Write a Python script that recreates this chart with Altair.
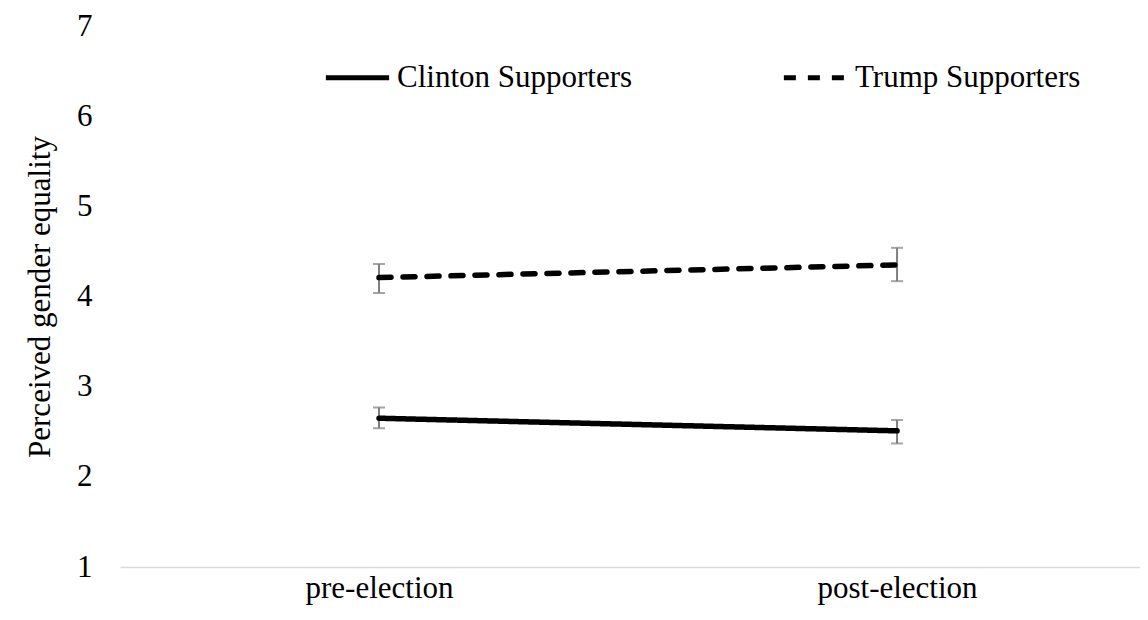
import altair as alt
import pandas as pd

conditions = ["pre-election", "post-election"]
groups = ["Clinton Supporters", "Trump Supporters"]
clinton_mean = [2.65, 2.51]
clinton_low = [2.54, 2.37]
clinton_high = [2.77, 2.63]
trump_mean = [4.21, 4.35]
trump_low = [4.04, 4.17]
trump_high = [4.36, 4.54]

rows = []
for i, c in enumerate(conditions):
    rows.append(dict(idx=i, condition=c, group=groups[0], mean=clinton_mean[i], low=clinton_low[i], high=clinton_high[i]))
    rows.append(dict(idx=i, condition=c, group=groups[1], mean=trump_mean[i], low=trump_low[i], high=trump_high[i]))
df = pd.DataFrame(rows)

FONT = "Liberation Serif, Times New Roman, serif"
label_expr = "datum.value == 0 ? '%s' : (datum.value == 1 ? '%s' : '')" % (conditions[0], conditions[1])

x_enc = alt.X(
    "idx:Q",
    scale=alt.Scale(domain=[-0.5, 1.469], nice=False, zero=False),
    axis=alt.Axis(
        title=None, values=[0, 1], labelExpr=label_expr, grid=False, ticks=False,
        domainColor="#d9d9d9", domainWidth=1.5, labelFont=FONT, labelFontSize=31,
        labelColor="black", labelPadding=6, labelFlush=False,
    ),
)
y_scale = alt.Scale(domain=[1, 7], nice=False, zero=False)
y_axis = alt.Axis(
    title="Perceived gender equality", values=[1, 2, 3, 4, 5, 6, 7], format="d", grid=False,
    ticks=False, domain=False, labelFont=FONT, labelFontSize=31, labelColor="black",
    labelPadding=28, titleFont=FONT, titleFontSize=31, titleFontWeight="normal",
    titleColor="black", titlePadding=20,
)

base = alt.Chart(df)

err = base.mark_rule(color="#7f7f7f", strokeWidth=2).encode(
    x=x_enc, y=alt.Y("low:Q", scale=y_scale, axis=y_axis), y2="high:Q"
)
caps_lo = base.mark_tick(color="#7f7f7f", thickness=2, size=12, orient="horizontal").encode(
    x="idx:Q", y=alt.Y("low:Q")
)
caps_hi = base.mark_tick(color="#7f7f7f", thickness=2, size=12, orient="horizontal").encode(
    x="idx:Q", y=alt.Y("high:Q")
)

lines = base.mark_line(strokeWidth=5.5, strokeCap="round", color="black").encode(
    x="idx:Q",
    y=alt.Y("mean:Q"),
    strokeDash=alt.StrokeDash(
        "group:N",
        scale=alt.Scale(domain=groups, range=[[1, 0], [12, 12]]),
        legend=alt.Legend(
            title=None, orient="none", direction="horizontal", legendX=203, legendY=17,
            symbolType="stroke", symbolSize=4000, symbolStrokeWidth=5,
            symbolStrokeColor="black", labelFont=FONT, labelFontSize=31,
            labelColor="black", labelOffset=5, labelLimit=500, columnPadding=140, padding=0,
        ),
    ),
    detail="group:N",
)

chart = alt.layer(err, caps_lo, caps_hi, lines).properties(
    width=1020, height=541,
    background="white",
    autosize=alt.AutoSizeParams(type="none"),
    padding={"left": 112, "top": 18, "right": 0, "bottom": 40},
).configure_view(strokeWidth=0)

chart.save("out.html", embed_options={"renderer": "svg", "actions": False})
